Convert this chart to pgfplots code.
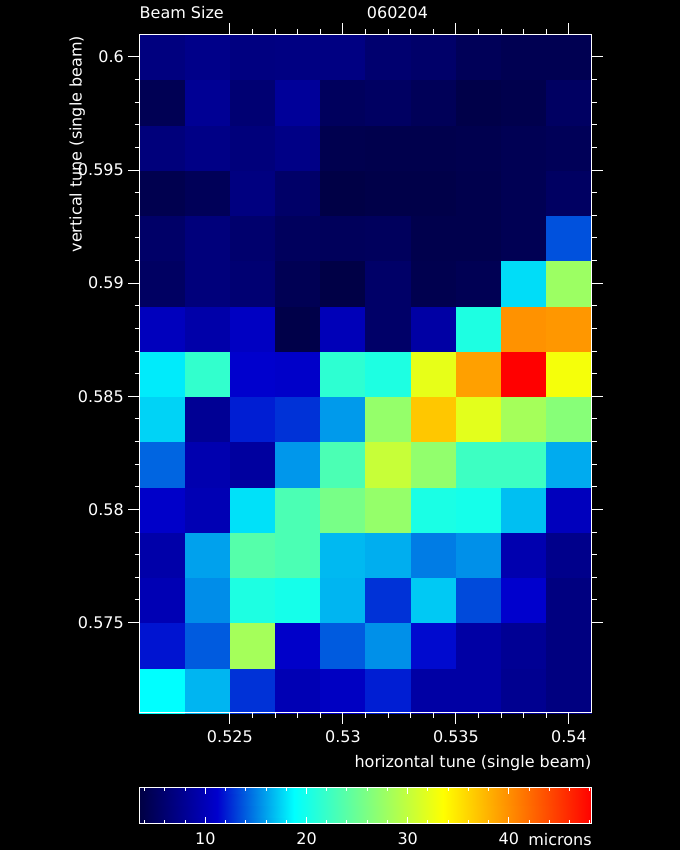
\documentclass[border=0pt]{standalone}
\usepackage{fontspec}
\setmainfont{DejaVu Sans}
\usepackage{pgfplots}
\usepackage{pgfplotstable}
\pgfplotsset{compat=1.18}

\pgfplotstableread{
x y c
0.522 0.572 18.8
0.524 0.572 16.6
0.526 0.572 12.7
0.528 0.572 9.8
0.530 0.572 10.6
0.532 0.572 12.1
0.534 0.572 8.9
0.536 0.572 8.9
0.538 0.572 7.8
0.540 0.572 6.9
0.522 0.574 11.8
0.524 0.574 13.9
0.526 0.574 28.3
0.528 0.574 11.0
0.530 0.574 13.9
0.532 0.574 15.5
0.534 0.574 11.5
0.536 0.574 8.9
0.538 0.574 8.0
0.540 0.574 6.9
0.522 0.576 9.8
0.524 0.576 15.4
0.526 0.576 20.5
0.528 0.576 20.0
0.530 0.576 16.6
0.532 0.576 12.7
0.534 0.576 17.2
0.536 0.576 13.4
0.538 0.576 11.2
0.540 0.576 6.9
0.522 0.578 9.2
0.524 0.578 16.0
0.526 0.578 23.7
0.528 0.578 23.1
0.530 0.578 16.7
0.532 0.578 16.4
0.534 0.578 14.9
0.536 0.578 15.5
0.538 0.578 9.5
0.540 0.578 7.5
0.522 0.580 11.0
0.524 0.580 9.8
0.526 0.580 17.9
0.528 0.580 23.1
0.530 0.580 25.7
0.532 0.580 27.4
0.534 0.580 20.3
0.536 0.580 20.0
0.538 0.580 16.9
0.540 0.580 10.3
0.522 0.582 14.2
0.524 0.582 9.5
0.526 0.582 8.6
0.528 0.582 15.7
0.530 0.582 23.1
0.532 0.582 30.3
0.534 0.582 27.2
0.536 0.582 22.3
0.538 0.582 22.3
0.540 0.582 16.3
0.522 0.584 17.5
0.524 0.584 8.0
0.526 0.584 12.1
0.528 0.584 12.7
0.530 0.584 15.8
0.532 0.584 27.4
0.534 0.584 36.7
0.536 0.584 31.9
0.538 0.584 28.3
0.540 0.584 26.6
0.522 0.586 18.2
0.524 0.586 21.7
0.526 0.586 11.2
0.528 0.586 11.0
0.530 0.586 21.4
0.532 0.586 20.5
0.534 0.586 32.1
0.536 0.586 39.0
0.538 0.586 48.2
0.540 0.586 32.9
0.522 0.588 10.3
0.524 0.588 9.2
0.526 0.588 10.6
0.528 0.588 3.8
0.530 0.588 10.0
0.532 0.588 5.5
0.534 0.588 8.9
0.536 0.588 20.5
0.538 0.588 39.8
0.540 0.588 39.5
0.522 0.590 5.2
0.524 0.590 6.6
0.526 0.590 6.1
0.528 0.590 4.4
0.530 0.590 3.6
0.532 0.590 5.5
0.534 0.590 4.1
0.536 0.590 4.4
0.538 0.590 17.8
0.540 0.590 27.8
0.522 0.592 5.5
0.524 0.592 6.6
0.526 0.592 5.8
0.528 0.592 4.9
0.530 0.592 4.8
0.532 0.592 4.9
0.534 0.592 4.0
0.536 0.592 4.0
0.538 0.592 4.4
0.540 0.592 13.6
0.522 0.594 4.1
0.524 0.594 4.6
0.526 0.594 6.9
0.528 0.594 5.5
0.530 0.594 3.6
0.532 0.594 3.8
0.534 0.594 3.8
0.536 0.594 4.0
0.538 0.594 4.4
0.540 0.594 5.2
0.522 0.596 6.6
0.524 0.596 7.2
0.526 0.596 6.6
0.528 0.596 7.2
0.530 0.596 4.1
0.532 0.596 4.0
0.534 0.596 4.0
0.536 0.596 4.1
0.538 0.596 4.4
0.540 0.596 4.6
0.522 0.598 4.4
0.524 0.598 8.0
0.526 0.598 6.1
0.528 0.598 8.3
0.530 0.598 4.9
0.532 0.598 5.2
0.534 0.598 4.6
0.536 0.598 3.8
0.538 0.598 4.0
0.540 0.598 5.2
0.522 0.600 6.8
0.524 0.600 7.4
0.526 0.600 6.9
0.528 0.600 7.0
0.530 0.600 7.0
0.532 0.600 5.9
0.534 0.600 5.6
0.536 0.600 4.6
0.538 0.600 4.3
0.540 0.600 4.3
}\beamdata

\pgfplotsset{
  every axis/.append style={
    axis line style={white, line width=1bp},
    tick style={white, line width=1bp},
    tick label style={white, inner sep=0pt},
    label style={white, inner sep=0pt},
    colormap={idl}{rgb255(0)=(0,0,68) rgb255(77)=(0,0,205) rgb255(153)=(0,255,255) rgb255(300)=(255,255,0) rgb255(447)=(255,0,0)},
    point meta min=3.5, point meta max=48.2,
  },
}

\begin{document}
\fontsize{16bp}{19bp}\selectfont
\begin{tikzpicture}
\fill[black] (0,0) rectangle (680bp,850bp);
\useasboundingbox (0,0) rectangle (680bp,850bp);
% main heat map
\begin{axis}[
  at={(139.5bp,137bp)}, anchor=south west,
  scale only axis, width=452bp, height=678.7bp,
  xmin=0.521, xmax=0.541, ymin=0.571, ymax=0.601,
  clip=false,
  xtick={0.525,0.53,0.535,0.54},
  xticklabels={0.525,0.53,0.535,0.54},
  ytick={0.575,0.58,0.585,0.59,0.595,0.6},
  yticklabels={0.575,0.58,0.585,0.59,0.595,0.6},
  minor x tick num=4, minor y tick num=4,
  tick align=outside, major tick length=11bp, minor tick length=5bp,
  xtick pos=both, ytick pos=both,
  xticklabel pos=lower, yticklabel pos=left,
  xticklabel style={anchor=base, yshift=-18bp},
  yticklabel style={anchor=east, xshift=-4.5bp},
  xlabel={horizontal tune (single beam)},
  xlabel style={at={(axis description cs:1,0)}, anchor=base east, yshift=-54bp},
  ylabel={vertical tune (single beam)},
  ylabel style={at={(axis description cs:-0.1279,0.998)}, anchor=base east},
  axis on top,
]
\addplot[matrix plot*, mesh/cols=10, point meta=explicit] table[x=x, y=y, meta=c] {\beamdata};
\node[white, anchor=base west, inner sep=0pt] at (axis description cs:0,1) [yshift=16bp] {Beam Size};
\node[white, anchor=base west, inner sep=0pt] at (axis description cs:0.5027,1) [yshift=16bp] {060204};
\end{axis}
% colour bar
\begin{axis}[
  at={(139.6bp,26.4bp)}, anchor=south west,
  scale only axis, width=452.2bp, height=36.5bp,
  xmin=3.5, xmax=48.2, ymin=0, ymax=1,
  ytick=\empty,
  xtick={10,20,30,40}, xticklabels={10,20,30,40},
  minor xtick={4,6,8,12,14,16,18,22,24,26,28,32,34,36,38,42,44,46,48},
  tick align=inside, xtick pos=both, xticklabel pos=lower,
  major tick length=7bp, minor tick length=4bp,
  xticklabel style={anchor=base, yshift=-21bp},
  xlabel={microns},
  xlabel style={at={(axis description cs:1,0)}, anchor=base east, yshift=-22bp},
  axis on top,
]
\addplot[surf, shader=interp, mesh/cols=5, point meta=x] coordinates {
  (3.5,0) (11.2,0) (18.8,0) (33.5,0) (48.2,0)
  (3.5,1) (11.2,1) (18.8,1) (33.5,1) (48.2,1)
};
\end{axis}
\end{tikzpicture}
\end{document}
